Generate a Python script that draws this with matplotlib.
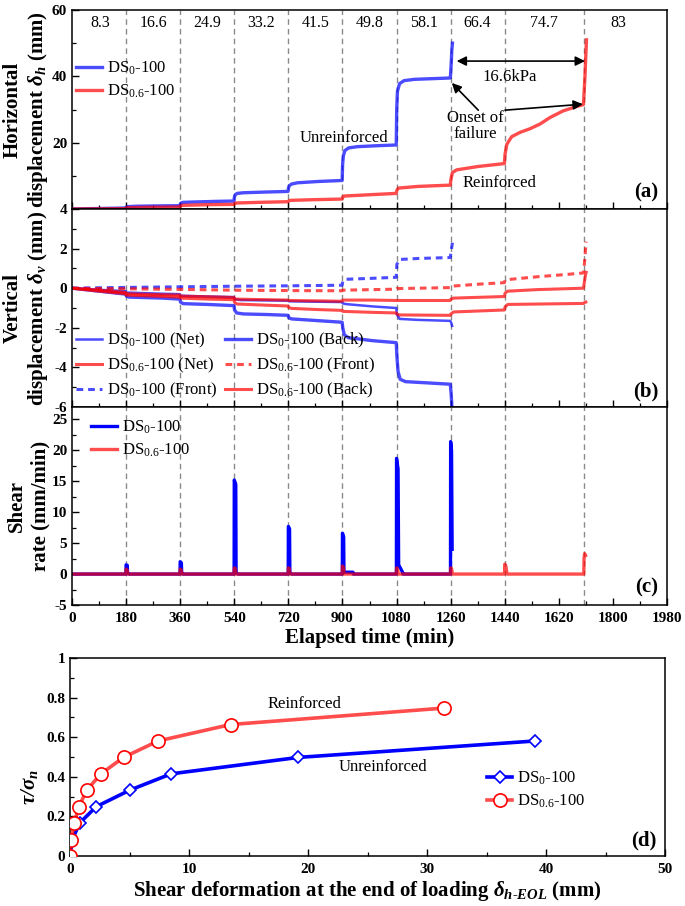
import matplotlib
matplotlib.use('Agg')
import matplotlib.pyplot as plt
from matplotlib.lines import Line2D
from matplotlib.ticker import MultipleLocator

plt.rcParams.update({
    'font.family': ['Liberation Serif', 'DejaVu Serif'],
    'mathtext.fontset': 'custom',
    'mathtext.rm': 'Liberation Serif',
    'mathtext.it': 'Liberation Serif:italic',
    'mathtext.bf': 'Liberation Serif:italic:bold',
    'axes.unicode_minus': False,
    'axes.linewidth': 1.1,
    'xtick.direction': 'in', 'ytick.direction': 'in',
    'xtick.major.size': 5, 'xtick.minor.size': 3,
    'ytick.major.size': 5, 'ytick.minor.size': 3,
    'xtick.major.width': 1.0, 'ytick.major.width': 1.0,
    'xtick.minor.width': 0.9, 'ytick.minor.width': 0.9,
})

# ---------------- data ----------------
stage_lines = [180, 360, 540, 720, 900, 1080, 1260, 1440, 1704]
stage_loads = ['8.3', '16.6', '24.9', '33.2', '41.5', '49.8', '58.1', '66.4', '74.7', '83']
stage_label_t = [95, 272, 450, 630, 810, 990, 1170, 1350, 1572, 1817]

# (a) horizontal displacement
ta_blue = [0, 60, 120, 179, 180.5, 183, 190, 220, 300, 359, 360.5, 363, 370, 400, 480, 539,
           540.5, 543, 550, 570, 640, 719, 720.5, 723, 730, 750, 820, 899, 900.5, 903, 908,
           920, 950, 1020, 1079, 1080.5, 1083, 1090, 1105, 1140, 1200, 1259, 1262, 1264, 1266]
ha_blue = [0, 0.1, 0.2, 0.3, 0.5, 0.65, 0.75, 0.85, 0.95, 1.0, 1.5, 1.8, 2.0, 2.1, 2.3, 2.4,
           3.6, 4.3, 4.7, 4.9, 5.1, 5.3, 6.4, 7.0, 7.5, 7.9, 8.3, 8.6, 13.5, 16.0, 17.6,
           18.4, 18.8, 19.1, 19.3, 30.0, 35.5, 37.8, 38.7, 39.1, 39.3, 39.5, 44.0, 48.0, 50.0]
ta_red = [0, 90, 179, 181, 185, 250, 359, 361, 365, 450, 539, 541, 545, 620, 719, 721, 725,
          800, 899, 901, 905, 990, 1079, 1081, 1086, 1150, 1259, 1261, 1266, 1280, 1350, 1439,
          1441, 1447, 1463, 1491, 1524, 1557, 1591, 1635, 1679, 1702, 1707, 1712]
ha_red = [0, 0.05, 0.1, 0.3, 0.4, 0.5, 0.6, 0.9, 1.1, 1.3, 1.4, 1.6, 1.8, 2.0, 2.2, 2.4, 2.6,
          2.8, 3.0, 3.6, 3.9, 4.3, 4.7, 5.6, 6.3, 6.8, 7.2, 9.0, 11.0, 11.8, 12.8, 13.7,
          16.5, 19.5, 21.8, 23.1, 24.2, 25.6, 27.6, 29.6, 30.9, 31.5, 40.0, 51.0]

# (b) vertical displacement
tb_blue_net = [0, 90, 179, 181, 300, 359, 361, 450, 539, 541, 560, 719, 721, 800, 899, 901,
               910, 1000, 1079, 1081, 1090, 1150, 1259, 1262, 1265]
vb_blue_net = [0, -0.08, -0.15, -0.22, -0.28, -0.3, -0.38, -0.42, -0.45, -0.55, -0.6, -0.63,
               -0.66, -0.68, -0.7, -0.76, -0.8, -0.92, -1.0, -1.3, -1.55, -1.6, -1.65, -1.75, -1.9]
tb_blue_back = [0, 90, 179, 181, 190, 300, 359, 361, 370, 450, 539, 541, 548, 570, 650, 719,
                721, 730, 800, 899, 901, 906, 920, 1000, 1079, 1081, 1085, 1092, 1110, 1180,
                1259, 1262, 1265]
vb_blue_back = [0, -0.15, -0.3, -0.4, -0.45, -0.5, -0.55, -0.7, -0.78, -0.82, -0.88, -1.1,
                -1.25, -1.3, -1.33, -1.37, -1.48, -1.55, -1.62, -1.72, -2.0, -2.35, -2.5,
                -2.65, -2.75, -3.4, -4.2, -4.6, -4.72, -4.78, -4.85, -5.4, -6.2]
tb_blue_front = [0, 180, 360, 540, 720, 899, 901, 910, 1000, 1079, 1081, 1090, 1150, 1259,
                 1261, 1264, 1266]
vb_blue_front = [0, 0.04, 0.07, 0.1, 0.12, 0.15, 0.35, 0.45, 0.5, 0.55, 1.2, 1.45, 1.5, 1.55,
                 1.8, 2.1, 2.3]
tb_red_net = [0, 90, 179, 181, 300, 359, 361, 450, 539, 541, 650, 719, 721, 820, 899, 901,
              1000, 1079, 1081, 1259, 1261, 1270, 1439, 1441, 1450, 1550, 1702, 1705, 1708, 1711]
vb_red_net = [0, -0.1, -0.22, -0.28, -0.33, -0.35, -0.4, -0.43, -0.47, -0.55, -0.58, -0.6,
              -0.62, -0.64, -0.66, -0.6, -0.6, -0.62, -0.62, -0.62, -0.55, -0.5, -0.42, -0.25,
              -0.15, -0.07, 0.0, 0.3, 0.6, 0.8]
tb_red_front = [0, 180, 360, 540, 720, 899, 901, 1079, 1081, 1259, 1261, 1350, 1439, 1441,
                1460, 1550, 1650, 1702, 1705, 1708, 1711]
vb_red_front = [0, -0.03, -0.06, -0.1, -0.12, -0.13, -0.1, -0.05, -0.02, 0.03, 0.1, 0.2,
                0.28, 0.4, 0.45, 0.58, 0.7, 0.77, 1.2, 1.8, 2.35]
tb_red_back = [0, 90, 179, 181, 300, 359, 361, 450, 539, 541, 550, 650, 719, 721, 730, 820,
               899, 901, 1000, 1079, 1081, 1090, 1259, 1261, 1270, 1439, 1441, 1450, 1550,
               1702, 1706, 1710]
vb_red_back = [0, -0.15, -0.28, -0.35, -0.42, -0.45, -0.5, -0.55, -0.58, -0.72, -0.8, -0.86,
               -0.9, -0.97, -1.02, -1.08, -1.12, -1.17, -1.22, -1.25, -1.3, -1.35, -1.37,
               -1.3, -1.2, -1.1, -0.95, -0.82, -0.8, -0.77, -0.72, -0.7]

# (c) shear rate
tc_blue = [0, 179.5, 180, 184, 185, 190, 359.5, 360, 364, 365, 370, 539.5, 540, 545, 546,
           552, 719.5, 720, 724, 725, 731, 899.5, 900, 904, 905, 935, 936, 1079.5, 1080, 1085,
           1087, 1100, 1101, 1259.5, 1260, 1263, 1265]
rc_blue = [0, 0, 1.5, 1.4, 0.1, 0, 0, 2.0, 1.8, 0.1, 0, 0, 15.2, 14.5, 0.3, 0, 0, 7.7, 7.3,
           0.2, 0, 0, 6.6, 6.0, 0.3, 0.3, 0, 0, 18.7, 17.0, 1.5, 0.3, 0, 0, 21.4, 20.0, 4.0]
tc_red = [0, 179.5, 180, 183, 186, 359.5, 360, 363, 366, 539.5, 540, 543, 546, 719.5, 720,
          723, 726, 899.5, 900, 903, 906, 1079.5, 1080, 1083, 1086, 1259.5, 1260, 1263, 1266,
          1439.5, 1440, 1443, 1448, 1703, 1704, 1706, 1709]
rc_red = [0, 0, 0.8, 0.7, 0, 0, 0.8, 0.7, 0, 0, 1.0, 0.9, 0, 0, 1.0, 0.9, 0, 0, 1.3, 1.1, 0,
          0, 1.0, 0.9, 0, 0, 1.0, 0.9, 0, 0, 1.6, 1.4, 0, 0, 2.5, 3.3, 3.0]

# (d) stress ratio vs deformation at end of loading
d_blue_x = [0, 0.2, 0.8, 2.2, 5.0, 8.5, 19.2, 39.1]
d_blue_y = [0, 0.083, 0.166, 0.249, 0.332, 0.415, 0.498, 0.581]
d_red_x = [0, 0.1, 0.35, 0.75, 1.4, 2.6, 4.5, 7.4, 13.5, 31.4]
d_red_y = [0, 0.083, 0.166, 0.249, 0.332, 0.415, 0.498, 0.581, 0.664, 0.747]

lab0 = 'DS$_0$-100'
lab6 = 'DS$_{0.6}$-100'

BLUE = '#0000ff'
RED = '#ff0000'
AL = 0.7
TICKFS = 11
LABFS = 15
YLAB_X = -0.037

fig = plt.figure(figsize=(6.85, 9.06), dpi=100)
L = 72 / 685
W = 595 / 685
axa = fig.add_axes([L, 1 - 209 / 906, W, 199 / 906])
axb = fig.add_axes([L, 1 - 407 / 906, W, 198 / 906])
axc = fig.add_axes([L, 1 - 605 / 906, W, 198 / 906])
axd = fig.add_axes([70 / 685, 1 - 856 / 906, 595 / 685, 198 / 906])

for ax in (axa, axb, axc):
    ax.set_xlim(0, 1980)
    ax.xaxis.set_minor_locator(MultipleLocator(90))
    for t in stage_lines:
        ax.axvline(t, color='#8a8a8a', lw=1.0, ls=(0, (4, 3)), zorder=0)
    ax.tick_params(which='both', top=False, right=False)

xt = list(range(0, 1981, 180))
for ax in (axa, axb):
    ax.set_xticks(xt, [''] * len(xt))
axc.set_xticks(xt, [str(v) for v in xt], fontweight='bold', fontsize=TICKFS)
axc.tick_params(axis='x', pad=5)

# ---- (a) ----
axa.plot(ta_blue, ha_blue, color=BLUE, alpha=AL, lw=2.4, label=lab0)
axa.plot(ta_red, ha_red, color=RED, alpha=AL, lw=2.4, label=lab6)
axa.set_ylim(0, 60)
axa.set_yticks([0, 20, 40, 60], ['', '20', '40', '60'], fontweight='bold', fontsize=TICKFS)
axa.yaxis.set_minor_locator(MultipleLocator(10))
for t, s in zip(stage_label_t, stage_loads):
    axa.text(t, 56.0, s, ha='center', va='center', fontsize=11.5)
axa.legend(loc='upper left', bbox_to_anchor=(-0.005, 0.785), frameon=False, fontsize=12,
           handlelength=1.6, handletextpad=0.3, labelspacing=0.35, borderaxespad=0)
axa.text(905, 21.5, 'Unreinforced', ha='center', va='center', fontsize=12)
axa.text(1424, 7.7, 'Reinforced', ha='center', va='center', fontsize=12)
axa.text(1343, 25.0, 'Onset of\nfailure', ha='center', va='center', fontsize=12, linespacing=1.0)
axa.text(1457, 39.9, '16.6kPa', ha='center', va='center', fontsize=12)
axa.annotate('', xy=(1280, 44.6), xytext=(1707, 44.6),
             arrowprops=dict(arrowstyle='<|-|>', color='k', lw=1.2, mutation_scale=14,
                             shrinkA=0, shrinkB=0))
axa.annotate('', xy=(1264, 38.0), xytext=(1352, 29.8),
             arrowprops=dict(arrowstyle='-|>', color='k', lw=1.2, mutation_scale=14,
                             shrinkA=0, shrinkB=0))
axa.annotate('', xy=(1700, 31.6), xytext=(1441, 29.8),
             arrowprops=dict(arrowstyle='-|>', color='k', lw=1.2, mutation_scale=14,
                             shrinkA=0, shrinkB=0))
axa.set_ylabel('Horizontal\ndisplacement $\\mathbf{\\delta_h}$ (mm)', fontsize=LABFS,
               fontweight='bold', linespacing=1.2)
axa.yaxis.set_label_coords(YLAB_X, 0.5)
axa.text(0.985, 0.082, '(a)', transform=axa.transAxes, ha='right', va='center',
         fontsize=15, fontweight='bold')

# ---- (b) ----
dot = (0, (2.2, 1.6))
h1, = axb.plot(tb_blue_net, vb_blue_net, color=BLUE, alpha=AL, lw=1.8, label=lab0 + ' (Net)')
h4, = axb.plot(tb_blue_back, vb_blue_back, color=BLUE, alpha=AL, lw=2.4, label=lab0 + ' (Back)')
h3, = axb.plot(tb_blue_front, vb_blue_front, color=BLUE, alpha=AL, lw=2.2, ls=dot,
               label=lab0 + ' (Front)')
h2, = axb.plot(tb_red_net, vb_red_net, color=RED, alpha=AL, lw=2.2, label=lab6 + ' (Net)')
h5, = axb.plot(tb_red_front, vb_red_front, color=RED, alpha=AL, lw=2.2, ls=dot,
               label=lab6 + ' (Front)')
h6, = axb.plot(tb_red_back, vb_red_back, color=RED, alpha=AL, lw=2.2, label=lab6 + ' (Back)')
axb.set_ylim(-6, 4)
axb.set_yticks([-6, -4, -2, 0, 2, 4], ['-6', '-4', '-2', '0', '2', '4'], fontweight='bold',
               fontsize=TICKFS)
axb.yaxis.set_minor_locator(MultipleLocator(1))
axb.legend(handles=[h1, h2, h3, h4, h5, h6], ncol=2, loc='lower left',
           bbox_to_anchor=(-0.005, 0.0), frameon=False, fontsize=12, handlelength=1.6,
           handletextpad=0.3, labelspacing=0.35, columnspacing=0.4, borderaxespad=0)
axb.set_ylabel('Vertical\ndisplacement $\\mathbf{\\delta_v}$ (mm)', fontsize=LABFS,
               fontweight='bold', linespacing=1.2)
axb.yaxis.set_label_coords(YLAB_X, 0.5)
axb.text(0.985, 0.077, '(b)', transform=axb.transAxes, ha='right', va='center',
         fontsize=15, fontweight='bold')

# ---- (c) ----
axc.plot(tc_blue, rc_blue, color=BLUE, lw=2.4, label=lab0)
axc.plot(tc_red, rc_red, color=RED, alpha=AL, lw=2.4, label=lab6)
axc.set_ylim(-5, 27)
axc.set_yticks([-5, 0, 5, 10, 15, 20, 25], ['-5', '0', '5', '10', '15', '20', '25'],
               fontweight='bold', fontsize=TICKFS)
axc.yaxis.set_minor_locator(MultipleLocator(2.5))
axc.legend(loc='upper left', bbox_to_anchor=(0.02, 0.975), frameon=False, fontsize=12,
           handlelength=1.6, handletextpad=0.3, labelspacing=0.35, borderaxespad=0)
axc.set_ylabel('Shear\nrate (mm/min)', fontsize=LABFS, fontweight='bold', linespacing=1.2)
axc.yaxis.set_label_coords(YLAB_X, 0.5)
axc.set_xlabel('Elapsed time (min)', fontsize=LABFS, fontweight='bold', labelpad=2)
axc.text(0.985, 0.086, '(c)', transform=axc.transAxes, ha='right', va='center',
         fontsize=15, fontweight='bold')

# ---- (d) ----
axd.plot(d_blue_x, d_blue_y, color=BLUE, lw=2.6, zorder=2)
axd.plot(d_blue_x, d_blue_y, ls='none', marker='D', ms=6.5, mfc='white', mec=BLUE, mew=1.2,
         zorder=3)
axd.plot(d_red_x, d_red_y, color=RED, alpha=AL, lw=2.6, zorder=4)
axd.plot(d_red_x, d_red_y, ls='none', marker='o', ms=9.5, mfc='white', mec=RED, mew=1.2,
         zorder=5)
axd.set_xlim(0, 50)
axd.set_ylim(0, 1)
axd.set_xticks([0, 10, 20, 30, 40, 50], ['0', '10', '20', '30', '40', '50'],
               fontweight='bold', fontsize=TICKFS)
axd.set_yticks([0, 0.2, 0.4, 0.6, 0.8, 1.0], ['0', '0.2', '0.4', '0.6', '0.8', '1'],
               fontweight='bold', fontsize=TICKFS)
axd.xaxis.set_minor_locator(MultipleLocator(5))
axd.yaxis.set_minor_locator(MultipleLocator(0.1))
axd.tick_params(which='both', top=False, right=False)
axd.tick_params(axis='x', pad=5)
axd.text(19.7, 0.77, 'Reinforced', ha='center', va='center', fontsize=12)
axd.text(26.3, 0.45, 'Unreinforced', ha='center', va='center', fontsize=12)
hd = [Line2D([], [], color=(0, 0, 1, 1), lw=2.6, marker='D', ms=6.5, mfc='white', mec=BLUE,
             mew=1.2),
      Line2D([], [], color=(1, 0, 0, AL), lw=2.6, marker='o', ms=9.5, mfc='white', mec=RED,
             mew=1.2)]
axd.legend(hd, [lab0, lab6], loc='upper left', bbox_to_anchor=(0.69, 0.47), frameon=False,
           fontsize=12, handlelength=1.5, handletextpad=0.3, labelspacing=0.35,
           borderaxespad=0)
axd.set_xlabel('Shear deformation at the end of loading $\\mathbf{\\delta_{h\u2010EOL}}$ (mm)',
               fontsize=LABFS, fontweight='bold', labelpad=2)
axd.set_ylabel('$\\mathbf{\\tau/\\sigma_n}$', fontsize=LABFS)
axd.yaxis.set_label_coords(-0.05, 0.35)
axd.text(0.985, 0.08, '(d)', transform=axd.transAxes, ha='right', va='center',
         fontsize=15, fontweight='bold')

fig.savefig('out.png', dpi=100, facecolor='white')
